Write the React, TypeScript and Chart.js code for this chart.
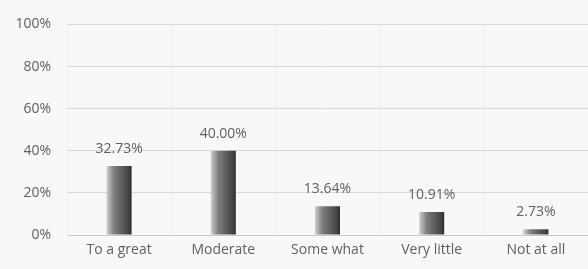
import React, { useEffect, useRef } from "react";
import { Chart, registerables } from "chart.js";

Chart.register(...registerables);

const categories = ["To a great", "Moderate", "Some what", "Very little", "Not at all"];
const values = [32.73, 40.0, 13.64, 10.91, 2.73];
const valueLabels = ["32.73%", "40.00%", "13.64%", "10.91%", "2.73%"];
const yTicks = [0, 20, 40, 60, 80, 100];

const FONT = "'Open Sans', Lato, sans-serif";
const TEXT = "#606060";

const valueLabelPlugin = {
  id: "valueLabels",
  afterDatasetsDraw(chart: any) {
    const ctx = chart.ctx;
    const meta = chart.getDatasetMeta(0);
    ctx.save();
    ctx.font = `14px ${FONT}`;
    ctx.fillStyle = TEXT;
    ctx.textAlign = "center";
    ctx.textBaseline = "middle";
    meta.data.forEach((el: any, i: number) => {
      ctx.fillText(valueLabels[i], el.x, el.y - 17);
    });
    ctx.restore();
  },
};

export default function App() {
  const ref = useRef<HTMLCanvasElement | null>(null);
  useEffect(() => {
    if (!ref.current) return;
    const barPct = 0.24;
    const chart = new Chart(ref.current, {
      type: "bar",
      data: {
        labels: categories,
        datasets: [
          {
            data: values,
            categoryPercentage: 1,
            barPercentage: barPct,
            borderWidth: 0,
            backgroundColor: (c: any) => {
              const ch = c.chart;
              const xs = ch.scales?.x;
              if (!xs || c.dataIndex === undefined || xs.right === undefined || xs.width === undefined) return "#555";
              const center = xs.getPixelForValue(c.dataIndex);
              const catW = xs.width / categories.length;
              const w = catW * barPct;
              if (!isFinite(center) || !isFinite(w) || w <= 0) return "#555";
              const g = ch.ctx.createLinearGradient(center - w / 2, 0, center + w / 2, 0);
              g.addColorStop(0, "#cfcfcf");
              g.addColorStop(0.3, "#7e7e7e");
              g.addColorStop(0.85, "#464646");
              g.addColorStop(1, "#2e2e2e");
              return g;
            },
          },
        ],
      },
      options: {
        animation: false,
        responsive: false,
        maintainAspectRatio: false,
        layout: { padding: { top: 20, right: 0, left: 0, bottom: 0 } },
        plugins: { legend: { display: false }, tooltip: { enabled: false } },
        scales: {
          x: {
            offset: true,
            grid: { offset: true, color: "#efeff3", drawTicks: false },
            border: { display: false },
            ticks: { color: TEXT, font: { family: FONT, size: 14 }, padding: 7, maxRotation: 0 },
            afterFit: (s: any) => {
              s.height = 34;
            },
          },
          y: {
            min: 0,
            max: 100,
            afterBuildTicks: (s: any) => {
              s.ticks = yTicks.map((v) => ({ value: v }));
            },
            grid: {
              color: (c: any) => (c.tick && c.tick.value === 0 ? "#c8c8cc" : "#d8d8dc"),
              drawTicks: false,
            },
            border: { display: false },
            ticks: {
              color: TEXT,
              font: { family: FONT, size: 14 },
              padding: 16,
              callback: (v: any) => `${v}%`,
            },
            afterFit: (s: any) => {
              s.width = 67;
            },
          },
        },
      },
      plugins: [valueLabelPlugin],
    });
    return () => chart.destroy();
  }, []);
  return (
    <div style={{ position: "fixed", left: 0, top: 0, width: 588, height: 269, background: "#f8f8fb" }}>
      <canvas ref={ref} width={588} height={269} style={{ display: "block" }} />
    </div>
  );
}
